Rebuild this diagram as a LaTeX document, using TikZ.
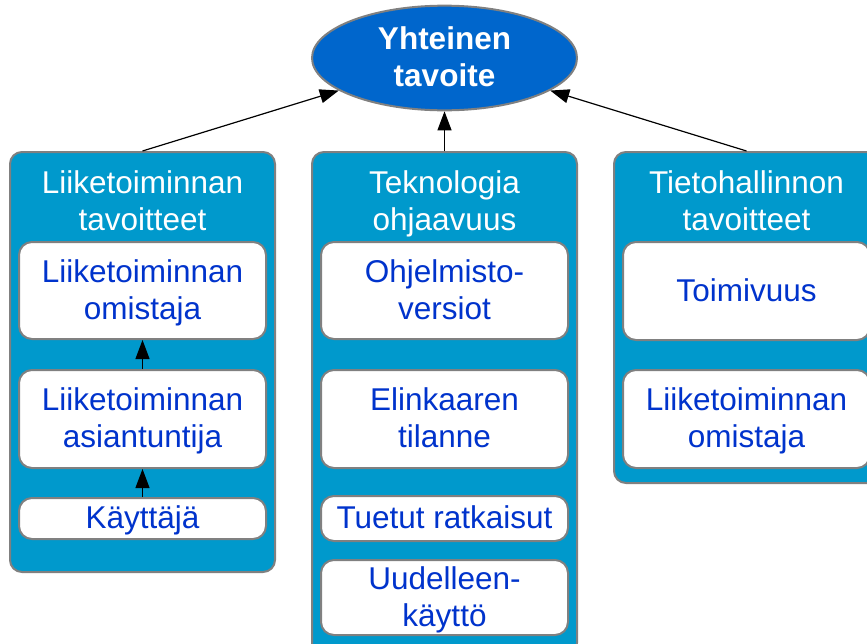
\documentclass[tikz,border=0pt]{standalone}
\usepackage{fontspec}
\setmainfont{Liberation Sans}
\usetikzlibrary{arrows.meta,shapes.geometric}
\definecolor{goalblue}{RGB}{0,102,204}
\definecolor{panelblue}{RGB}{0,153,204}
\definecolor{itemblue}{RGB}{0,51,204}
\definecolor{edgegray}{RGB}{128,128,128}
% line strut: fixes line height and depth so the lines sit evenly in their boxes
\newcommand{\tstrut}{\rule[-8.1pt]{0pt}{37pt}}

\begin{document}
\begin{tikzpicture}[x=1pt,y=-1pt,
  txt/.style={font=\fontsize{31.5}{37}\selectfont, align=center, inner sep=0pt},
  goal/.style={ellipse, draw=edgegray, line width=2pt, fill=goalblue, text=white,
    font=\fontsize{31.5}{37}\selectfont\bfseries, align=center,
    minimum width=265pt, minimum height=99pt, inner sep=0pt},
  panel/.style={draw=edgegray, line width=2pt, fill=panelblue, rounded corners=12pt,
    minimum width=265pt, inner sep=0pt},
  heading/.style={txt, text=white},
  item/.style={txt, draw=edgegray, line width=2pt, fill=white, text=itemblue,
    rounded corners=13pt, minimum width=247pt},
  link/.style={line width=1.2pt, -{Triangle[length=19pt,width=14pt]}}
]
\useasboundingbox (0,0) rectangle (867,643);
\clip (0,0) rectangle (867,643);

% shared goal
\node[goal] (goal) at (444.5,58) {\tstrut Yhteinen\\\tstrut tavoite};

% three goal areas
\node[panel, minimum height=420pt] (bizpanel) at (142.5,362) {};
\node[panel, minimum height=503pt] (techpanel) at (444.5,403.5) {};
\node[panel, minimum height=331pt] (itpanel) at (746.5,317.5) {};

\node[heading] (bizhead) at (142.5,201.6) {\tstrut Liiketoiminnan\\\tstrut tavoitteet};
\node[heading] (techhead) at (444.5,201.6) {\tstrut Teknologia\\\tstrut ohjaavuus};
\node[heading] (ithead) at (746.5,201.6) {\tstrut Tietohallinnon\\\tstrut tavoitteet};

% business goals
\node[item, minimum height=97pt] (owner) at (142.5,290.5) {\tstrut Liiketoiminnan\\\tstrut omistaja};
\node[item, minimum height=98pt] (expert) at (142.5,419) {\tstrut Liiketoiminnan\\\tstrut asiantuntija};
\node[item, minimum height=41pt] (user) at (142.5,518.5) {\tstrut Käyttäjä};

% technology steering
\node[item, minimum height=97pt] (software) at (444.5,290.5) {\tstrut Ohjelmisto-\\\tstrut versiot};
\node[item, minimum height=98pt] (lifecycle) at (444.5,419) {\tstrut Elinkaaren\\\tstrut tilanne};
\node[item, minimum height=45pt] (supported) at (444.5,518.5) {\tstrut Tuetut ratkaisut};
\node[item, minimum height=75pt] (reuse) at (444.5,597.5) {\tstrut Uudelleen-\\\tstrut käyttö};

% IT management goals
\node[item, minimum height=98pt] (function) at (746.5,291) {\tstrut Toimivuus};
\node[item, minimum height=98pt] (itowner) at (746.5,419) {\tstrut Liiketoiminnan\\\tstrut omistaja};

% connectors
\draw[link] (bizpanel.north) -- (goal);
\draw[link] (techpanel.north) -- (goal.south);
\draw[link] (itpanel.north) -- (goal);
\draw[link] (expert.north) -- (owner.south);
\draw[link] (user.north) -- (expert.south);
\end{tikzpicture}
\end{document}
